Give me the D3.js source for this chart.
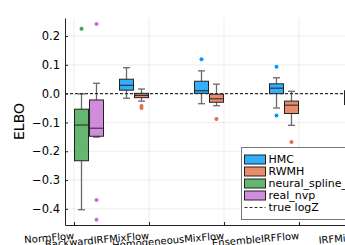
<!DOCTYPE html>
<html>
<head>
<meta charset="utf-8">
<script src="https://cdn.jsdelivr.net/npm/d3@7"></script>
<style>
  body { margin: 0; background: #fff; }
  svg { display: block; font-family: "DejaVu Sans", sans-serif; }
</style>
</head>
<body>
<svg id="chart" width="345" height="245"></svg>
<script>
// categories along x, series dodged inside each category
const categories = ["NormFlow", "BackwardIRFMixFlow", "HomogeneousMixFlow", "EnsembleIRFFlow", "IRFMixFlow"];
const seriesNames = ["HMC", "RWMH", "neural_spline_flow", "real_nvp"];
const seriesColors = ["#009AFA", "#E36F47", "#3EA44E", "#C371D2"];

// box stats per category: [lower whisker, q1, median, q3, upper whisker]
const hmcBoxes = [null, [-0.016, 0.012, 0.029, 0.050, 0.090], [-0.035, 0.001, 0.010, 0.043, 0.079], [-0.050, 0.000, 0.019, 0.034, 0.055], [-0.070, -0.038, -0.012, 0.010, 0.045]];
const rwmhBoxes = [null, [-0.026, -0.014, -0.006, 0.001, 0.016], [-0.042, -0.030, -0.018, -0.002, 0.033], [-0.110, -0.069, -0.040, -0.026, 0.008], [-0.060, -0.035, -0.020, -0.005, 0.020]];
const nsfBoxes = [[-0.403, -0.233, -0.109, -0.054, -0.001], null, null, null, null];
const nvpBoxes = [[-0.151, -0.148, -0.120, -0.022, 0.036], null, null, null, null];

const hmcOutliers = [[], [], [0.119], [0.093, -0.076], []];
const rwmhOutliers = [[], [-0.043, -0.050], [-0.088], [-0.168], []];
const nsfOutliers = [[0.225], [], [], [], []];
const nvpOutliers = [[0.242, -0.369, -0.438], [], [], [], []];

const yTicks = [-0.4, -0.3, -0.2, -0.1, 0.0, 0.1, 0.2];
const yLimits = [-0.456, 0.2625];
const trueLogZ = 0.0;

const boxes = [hmcBoxes, rwmhBoxes, nsfBoxes, nvpBoxes];
const outliers = [hmcOutliers, rwmhOutliers, nsfOutliers, nvpOutliers];

const svg = d3.select("#chart");
const plotLeft = 65, plotTop = 18, plotBottom = 225, plotRight = 383;

let x = d3.scalePoint()
    .domain(categories)
    .range([plotLeft, plotRight])
    .padding(0.12);
let y = d3.scaleLinear()
    .domain(yLimits)
    .range([plotBottom, plotTop]);

const slot = 15, boxW = 14, capW = 7;
function slotX(cat, s) { return x(cat) + (s - 1.5) * slot; }

// grid
let grid = svg.append("g").attr("stroke", "#000").attr("stroke-opacity", 0.09).attr("stroke-width", 0.8);
grid.selectAll(".gy").data(yTicks).enter().append("line")
    .attr("x1", plotLeft).attr("x2", plotRight)
    .attr("y1", d => y(d)).attr("y2", d => y(d));
grid.selectAll(".gx").data(categories).enter().append("line")
    .attr("x1", d => x(d)).attr("x2", d => x(d))
    .attr("y1", plotTop).attr("y2", plotBottom);

// axes
let yAxis = d3.axisLeft(y)
    .tickValues(yTicks)
    .tickFormat(d3.format(".1f"))
    .tickSize(-3)
    .tickSizeOuter(0)
    .tickPadding(5);
let gy = svg.append("g")
    .attr("transform", `translate(${plotLeft},0)`)
    .call(yAxis);
gy.selectAll("text").attr("font-size", 11.5).attr("fill", "#000").attr("font-family", "DejaVu Sans");

let xAxis = d3.axisBottom(x)
    .tickSize(-3)
    .tickSizeOuter(0);
let gx = svg.append("g")
    .attr("transform", `translate(0,${plotBottom})`)
    .call(xAxis);
gx.selectAll("text")
    .attr("font-size", 10)
    .attr("fill", "#000")
    .attr("font-family", "DejaVu Sans")
    .attr("text-anchor", "end")
    .attr("y", 0)
    .attr("dy", null)
    .attr("transform", "translate(0,14) rotate(-5)");
svg.selectAll(".domain").attr("stroke", "#222");
svg.selectAll(".tick line").attr("stroke", "#222");

// y label
svg.append("text")
    .attr("transform", `translate(24,${(plotTop + plotBottom) / 2}) rotate(-90)`)
    .attr("text-anchor", "middle")
    .attr("font-size", 14)
    .text("ELBO");

// boxes
boxes.forEach(function (list, s) {
    let g = svg.append("g");
    let data = list.map((b, i) => b ? { cat: categories[i], b: b } : null).filter(d => d);
    let items = g.selectAll("g").data(data).enter().append("g");
    // whiskers
    items.append("line")
        .attr("x1", d => slotX(d.cat, s)).attr("x2", d => slotX(d.cat, s))
        .attr("y1", d => y(d.b[0])).attr("y2", d => y(d.b[1]))
        .attr("stroke", "#6a6a6a").attr("stroke-width", 1.3);
    items.append("line")
        .attr("x1", d => slotX(d.cat, s)).attr("x2", d => slotX(d.cat, s))
        .attr("y1", d => y(d.b[3])).attr("y2", d => y(d.b[4]))
        .attr("stroke", "#6a6a6a").attr("stroke-width", 1.3);
    [0, 4].forEach(function (k) {
        items.append("line")
            .attr("x1", d => slotX(d.cat, s) - capW / 2).attr("x2", d => slotX(d.cat, s) + capW / 2)
            .attr("y1", d => y(d.b[k])).attr("y2", d => y(d.b[k]))
            .attr("stroke", "#6a6a6a").attr("stroke-width", 1.3);
    });
    items.append("rect")
        .attr("x", d => slotX(d.cat, s) - boxW / 2)
        .attr("width", boxW)
        .attr("y", d => y(d.b[3]))
        .attr("height", d => y(d.b[1]) - y(d.b[3]))
        .attr("fill", seriesColors[s])
        .attr("fill-opacity", 0.8)
        .attr("stroke", "#222")
        .attr("stroke-width", 1);
    items.append("line")
        .attr("x1", d => slotX(d.cat, s) - boxW / 2).attr("x2", d => slotX(d.cat, s) + boxW / 2)
        .attr("y1", d => y(d.b[2])).attr("y2", d => y(d.b[2]))
        .attr("stroke", "#222").attr("stroke-width", 1);

    let pts = [];
    outliers[s].forEach((vals, i) => vals.forEach(v => pts.push({ cat: categories[i], v: v })));
    g.selectAll("circle").data(pts).enter().append("circle")
        .attr("cx", d => slotX(d.cat, s))
        .attr("cy", d => y(d.v))
        .attr("r", 2)
        .attr("fill", seriesColors[s]);
});

// true logZ
svg.append("line")
    .attr("x1", plotLeft).attr("x2", plotRight)
    .attr("y1", y(trueLogZ)).attr("y2", y(trueLogZ))
    .attr("stroke", "#333").attr("stroke-width", 1.2)
    .attr("stroke-dasharray", "3,2");

// legend
let legend = svg.append("g").attr("transform", "translate(241.5,147.5)");
legend.append("rect")
    .attr("width", 150).attr("height", 72)
    .attr("fill", "#fff").attr("stroke", "#777").attr("stroke-width", 1);
let rowH = 12;
seriesNames.forEach(function (name, i) {
    let cy = 12 + i * rowH;
    legend.append("rect")
        .attr("x", 3).attr("y", cy - 4.5)
        .attr("width", 21).attr("height", 9)
        .attr("fill", seriesColors[i]).attr("fill-opacity", 0.8)
        .attr("stroke", "#222").attr("stroke-width", 1);
    legend.append("text")
        .attr("x", 27).attr("y", cy)
        .attr("dy", "0.35em")
        .attr("font-size", 11)
        .text(name);
});
let cyL = 12 + 4 * rowH;
legend.append("line")
    .attr("x1", 3).attr("x2", 24)
    .attr("y1", cyL).attr("y2", cyL)
    .attr("stroke", "#333").attr("stroke-width", 1.2)
    .attr("stroke-dasharray", "3,2");
legend.append("text")
    .attr("x", 27).attr("y", cyL)
    .attr("dy", "0.35em")
    .attr("font-size", 11)
    .text("true logZ");
</script>
</body>
</html>
